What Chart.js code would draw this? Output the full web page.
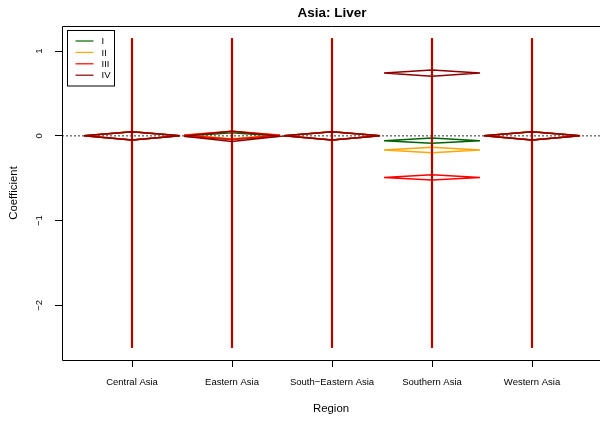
<!DOCTYPE html>
<html>
<head>
<meta charset="utf-8">
<title>Asia: Liver</title>
<script src="https://cdn.jsdelivr.net/npm/chart.js@4.4.0/dist/chart.umd.min.js"></script>
<style>
  html, body { margin: 0; padding: 0; background: #fff; }
  #wrap { width: 600px; height: 421px; }
</style>
</head>
<body>
<div id="wrap"><canvas id="coef-chart" width="600" height="421"></canvas></div>
<script>
// Regions sit at x = 1..5
const regions = ['Central Asia', 'Eastern Asia', 'South\u2212Eastern Asia', 'Southern Asia', 'Western Asia'];
const stages = ['I', 'II', 'III', 'IV'];
const stageColors = ['#006400', '#FFA500', '#FF0000', '#8B0000'];

// Coefficient estimates per stage
const estI   = [0, -0.005, 0, -0.057, 0];
const estII  = [0,  0.010, 0, -0.168, 0];
const estIII = [0,  0.006, 0, -0.491, 0];
const estIV  = [0, -0.006, 0,  0.740, 0];

// Standard errors (half height of each diamond)
const seI   = [0.048, 0.040, 0.048, 0.030, 0.048];
const seII  = [0.048, 0.045, 0.048, 0.032, 0.048];
const seIII = [0.048, 0.047, 0.048, 0.032, 0.048];
const seIV  = [0.048, 0.060, 0.048, 0.036, 0.048];

// Interval ends (truncated)
const ciLow  = [-2.5, -2.5, -2.5, -2.5, -2.5];
const ciHigh = [1.15, 1.15, 1.15, 1.15, 1.15];

const yTicks = [-2, -1, 0, 1];

const estimates = [estI, estII, estIII, estIV];
const stdErrs = [seI, seII, seIII, seIV];

const HALF_W = 0.48;   // diamond half width in x units
const FONT = "'Liberation Sans', Arial, Helvetica, sans-serif";
const ciWidths = [2.1, 2.1, 2.1, 1.3];

function diamondData(est, se) {
    const pts = [];
    est.forEach(function(v, i) {
        const x = i + 1;
        pts.push({x: x - HALF_W, y: v}, {x: x, y: v + se[i]}, {x: x + HALF_W, y: v},
                 {x: x, y: v - se[i]}, {x: x - HALF_W, y: v}, {x: x, y: null});
    });
    return pts;
}

function intervalData(lo, hi) {
    const pts = [];
    lo.forEach(function(v, i) {
        const x = i + 1;
        pts.push({x: x, y: v}, {x: x, y: hi[i]}, {x: x, y: null});
    });
    return pts;
}

function minusLabel(v) {
    return v < 0 ? '\u2212' + Math.abs(v) : String(v);
}

const datasets = [{
    label: 'zero',
    data: [{x: 0.3, y: 0}, {x: 5.7, y: 0}],
    borderColor: '#777777',
    borderWidth: 1.5,
    borderDash: [2, 2],
    pointRadius: 0,
    order: 20
}];

// stage I is drawn first, IV ends up on top
stages.forEach(function(name, s) {
    const ord = (stages.length - s) * 2;
    datasets.push({
        label: name + ' interval',
        data: intervalData(ciLow, ciHigh),
        borderColor: stageColors[s],
        borderWidth: ciWidths[s],
        pointRadius: 0,
        spanGaps: false,
        order: ord + 1
    });
    datasets.push({
        label: name,
        data: diamondData(estimates[s], stdErrs[s]),
        borderColor: stageColors[s],
        borderWidth: 1.5,
        pointRadius: 0,
        spanGaps: false,
        borderJoinStyle: 'miter',
        order: ord
    });
});

// box, title and legend in base-graphics style
const framePlugin = {
    id: 'frame',
    afterDraw: function(chart) {
        const ctx = chart.ctx;
        const a = chart.chartArea;
        const xs = chart.scales.x;
        ctx.save();

        ctx.strokeStyle = '#000';
        ctx.lineWidth = 1;
        ctx.beginPath();
        ctx.moveTo(chart.width, a.top + 0.5);
        ctx.lineTo(a.left + 0.5, a.top + 0.5);
        ctx.lineTo(a.left + 0.5, a.bottom + 0.5);
        ctx.lineTo(chart.width, a.bottom + 0.5);
        ctx.stroke();

        ctx.fillStyle = '#000';
        ctx.font = 'bold 13.5px ' + FONT;
        ctx.textAlign = 'center';
        ctx.textBaseline = 'middle';
        ctx.fillText('Asia: Liver', xs.getPixelForValue(3), 13.5);

        // legend
        const bx = a.left + 5.5, by = a.top + 4.5, bw = 47, bh = 55.5;
        ctx.fillStyle = '#fff';
        ctx.fillRect(bx, by, bw, bh);
        ctx.strokeStyle = '#000';
        ctx.strokeRect(bx, by, bw, bh);
        ctx.font = '9.5px ' + FONT;
        ctx.textAlign = 'left';
        stages.forEach(function(name, s) {
            const yy = by + 10.5 + s * 11.4;
            ctx.strokeStyle = stageColors[s];
            ctx.lineWidth = 1.2;
            ctx.beginPath();
            ctx.moveTo(bx + 8, yy);
            ctx.lineTo(bx + 26, yy);
            ctx.stroke();
            ctx.fillStyle = '#000';
            ctx.fillText(name, bx + 34, yy + 0.5);
        });
        ctx.restore();
    }
};

new Chart(document.getElementById('coef-chart'), {
    type: 'line',
    data: { datasets: datasets },
    options: {
        responsive: false,
        animation: false,
        layout: { padding: { top: 26, right: 0, bottom: 0, left: 0 } },
        plugins: {
            legend: { display: false },
            title: { display: false },
            tooltip: { enabled: false }
        },
        scales: {
            x: {
                type: 'linear',
                min: 0.3,
                max: 5.68,
                afterBuildTicks: function(scale) {
                    scale.ticks = regions.map(function(_, i) { return {value: i + 1}; });
                },
                afterFit: function(scale) { scale.height = 61; },
                ticks: {
                    callback: function(v) { return regions[v - 1] || ''; },
                    autoSkip: false,
                    maxRotation: 0,
                    padding: 10,
                    color: '#000',
                    font: { family: FONT, size: 9.5 }
                },
                grid: { drawOnChartArea: false, drawTicks: true, tickLength: 7, tickColor: '#000', tickWidth: 1 },
                border: { display: false },
                title: {
                    display: true,
                    text: 'Region',
                    color: '#000',
                    font: { family: FONT, size: 11.4 },
                    padding: { top: 0, bottom: 5 }
                }
            },
            y: {
                type: 'linear',
                min: -2.646,
                max: 1.296,
                afterBuildTicks: function(scale) {
                    scale.ticks = yTicks.map(function(v) { return {value: v}; });
                },
                afterFit: function(scale) { scale.width = 62; },
                ticks: {
                    callback: minusLabel,
                    minRotation: 90,
                    maxRotation: 90,
                    crossAlign: 'center',
                    padding: 10,
                    color: '#000',
                    font: { family: FONT, size: 9.5 }
                },
                grid: { drawOnChartArea: false, drawTicks: true, tickLength: 7, tickColor: '#000', tickWidth: 1 },
                border: { display: false },
                title: {
                    display: true,
                    text: 'Coefficient',
                    color: '#000',
                    font: { family: FONT, size: 11.4 },
                    padding: { top: 7, bottom: 0 }
                }
            }
        }
    },
    plugins: [framePlugin]
});
</script>
</body>
</html>
